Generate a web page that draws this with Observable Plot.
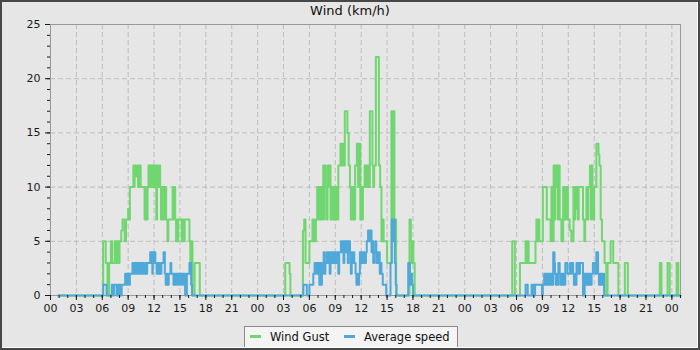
<!DOCTYPE html>
<html>
<head>
<meta charset="utf-8">
<script src="https://cdn.jsdelivr.net/npm/d3@7"></script>
<script src="https://cdn.jsdelivr.net/npm/@observablehq/plot@0.6"></script>
<style>
  html, body { margin: 0; padding: 0; background: #e6e6e6; }
  #wrap { position: relative; width: 700px; height: 350px; background: #e6e6e6; overflow: hidden; font-family: "DejaVu Sans", sans-serif; }
  #wrap svg { position: absolute; left: 0; top: 0; }
  #title { position: absolute; left: 0; top: 3px; width: 700px; text-align: center; font-size: 13px; line-height: 15px; color: #111; }
  #legend { position: absolute; left: 244px; top: 326px; width: 212px; height: 20px; background: #f4f4f4; border: 1px solid #8a8a8a; font-size: 11.5px; color: #111; }
  .item { position: absolute; top: 3px; line-height: 14px; white-space: nowrap; }
  .sw { display: inline-block; width: 11px; height: 3px; vertical-align: middle; margin-right: 9px; position: relative; top: -1px; }
  #border { position: absolute; left: 0; top: 0; width: 700px; height: 350px; box-sizing: border-box; border: 2px solid #474747; box-shadow: inset -1px -1px 0 #ffffff; pointer-events: none; }
</style>
</head>
<body>
<div id="wrap">
  <div id="chart"></div>
  <div id="title">Wind (km/h)</div>
  <div id="legend">
    <div class="item" style="left:5px"><span class="sw" style="background:#70d670"></span>Wind Gust</div>
    <div class="item" style="left:99px"><span class="sw" style="background:#4ea8da"></span>Average speed</div>
  </div>
  <div id="border"></div>
</div>
<script>
// hours since 00:00 of the first day, value in km/h (step changes)
const gustDay1 = [[0.9,0],[6.1,5],[6.4,3],[6.6,0],[6.8,3],[7.0,5],[7.15,3],[7.45,5],[7.6,3],[7.75,5],[7.85,3],[8.0,5],[8.2,6],[8.35,7],[8.6,5],[8.75,7],[9.0,8],[9.1,7],[9.2,10],[9.6,12],[9.7,10],[9.75,12],[9.85,11],[10.05,12],[10.15,10],[10.2,12],[10.3,10],[10.35,12],[10.45,10],[10.9,7],[10.95,10],[11.05,7],[11.1,10],[11.2,7],[11.25,10],[11.35,12],[11.45,10],[11.5,12],[11.6,10],[11.7,12],[11.8,10],[11.85,12],[12.0,10],[12.1,12],[12.25,7],[12.35,12],[12.45,10],[12.55,12],[12.7,10],[12.8,7],[12.9,10],[13.0,7],[13.1,10],[13.2,7],[13.3,10],[13.4,7],[13.55,5],[13.65,7],[14.15,10],[14.25,7],[14.35,10],[14.45,7],[14.55,5],[14.65,7],[14.75,5],[14.8,7],[15.2,5],[15.3,7],[15.45,5],[15.55,7],[16.1,5],[16.2,3],[16.3,5],[16.45,0],[16.7,3],[17.3,0]];
const gustDay2 = [[27.2,3],[27.7,2],[27.8,0],[29.25,6],[29.4,7],[29.55,3],[30.0,5],[30.35,7],[30.45,5],[30.55,7],[30.65,5],[30.75,7],[30.9,10],[31.0,7],[31.1,10],[31.2,7],[31.3,10],[31.4,7],[31.5,10],[31.6,12],[31.7,7],[31.75,12],[31.85,10],[32.0,7],[32.1,12],[32.25,10],[32.35,12],[32.45,7],[32.55,10],[32.65,7],[32.75,10],[32.85,7],[32.95,10],[33.05,7],[33.15,10],[33.25,7],[33.35,12],[33.6,14],[33.7,12],[33.8,14],[33.9,12],[34.1,17],[34.4,15],[34.55,12],[34.7,10],[34.8,7],[34.9,10],[35.0,7],[35.1,10],[35.2,7],[35.3,12],[35.5,14],[35.65,10],[35.75,14],[35.9,7],[36.0,10],[36.1,7],[36.2,10],[36.4,12],[36.5,10],[36.6,12],[36.7,10],[36.8,12],[36.9,10],[37.0,17],[37.3,12],[37.4,10],[37.5,12],[37.7,22],[38.05,12],[38.2,10],[38.35,5],[38.5,7],[38.6,5],[39.0,3],[39.5,17],[39.6,7],[39.7,17],[39.85,7],[40.05,0],[41.6,7],[41.75,5],[41.85,3],[41.95,5],[42.05,3],[42.2,0]];
const gustDay3 = [[53.5,5],[53.8,0],[54.4,3],[55.05,5],[55.15,3],[55.3,5],[55.4,3],[56.2,5],[56.3,7],[56.4,5],[56.55,7],[56.65,5],[57.05,10],[57.5,7],[57.95,5],[58.05,10],[58.15,5],[58.3,12],[58.4,7],[58.5,12],[58.6,10],[58.7,12],[58.8,7],[58.9,12],[59.0,7],[59.2,5],[59.4,10],[59.5,7],[59.6,10],[59.7,7],[59.8,10],[59.95,7],[60.15,6],[60.35,5],[60.6,10],[60.7,7],[60.8,10],[60.9,8],[61.0,10],[61.1,7],[61.2,10],[61.7,7],[61.85,5],[61.95,7],[62.1,10],[62.2,7],[62.3,10],[62.5,12],[62.6,7],[62.7,12],[62.8,10],[62.9,7],[63.0,10],[63.25,14],[63.5,13],[63.6,12],[63.75,7],[63.9,5],[64.2,3],[64.4,0],[64.55,3],[64.9,5],[65.2,3],[65.8,0],[66.55,3],[66.9,0],[70.6,3],[70.8,0],[71.5,3],[71.75,0],[72.55,3],[72.75,0],[73.0,0]];

const avgDay1 = [[0.9,0],[6.1,1],[6.5,0],[7.1,1],[7.2,0],[7.35,1],[7.65,0],[7.75,1],[7.9,0],[8.0,1],[8.1,0],[8.25,1],[8.65,2],[8.8,1],[8.9,2],[9.1,1],[9.2,2],[9.5,3],[9.6,2],[9.7,3],[9.85,2],[9.95,3],[10.1,2],[10.2,3],[10.35,2],[10.45,3],[10.6,2],[10.7,3],[10.8,2],[11.0,3],[11.1,2],[11.2,3],[11.55,4],[11.65,3],[11.7,4],[11.8,2],[11.85,4],[11.95,3],[12.05,4],[12.15,3],[12.3,2],[12.4,3],[12.5,2],[12.6,3],[12.75,2],[12.85,3],[13.1,4],[13.25,2],[13.35,1],[13.45,2],[13.55,1],[13.7,2],[13.9,3],[14.0,2],[14.25,1],[14.35,2],[14.5,1],[14.6,2],[14.8,1],[14.9,2],[15.1,1],[15.2,2],[15.4,1],[15.5,2],[15.6,0],[15.8,2],[16.1,3],[16.3,1],[16.4,0]];
const avgDay2 = [[29.3,1],[29.7,0],[30.0,1],[30.45,2],[30.6,3],[30.7,2],[30.8,3],[30.9,2],[31.0,3],[31.15,1],[31.25,3],[31.35,1],[31.45,2],[31.55,3],[31.65,4],[31.75,2],[31.85,3],[32.0,4],[32.1,3],[32.2,4],[32.35,2],[32.45,4],[32.6,3],[32.7,4],[32.85,3],[32.95,4],[33.1,3],[33.2,4],[33.35,2],[33.45,4],[33.65,5],[33.75,4],[33.85,5],[33.95,3],[34.05,5],[34.2,4],[34.3,5],[34.45,3],[34.55,5],[34.7,4],[34.8,2],[34.9,4],[35.0,3],[35.1,4],[35.2,3],[35.35,2],[35.45,1],[35.55,2],[35.65,1],[35.75,2],[35.85,4],[35.95,3],[36.05,4],[36.15,3],[36.25,4],[36.4,3],[36.55,4],[36.65,5],[36.8,6],[36.95,5],[37.05,6],[37.2,4],[37.3,5],[37.4,3],[37.5,4],[37.65,5],[37.75,3],[37.85,4],[37.95,3],[38.05,4],[38.15,2],[38.25,3],[38.35,2],[38.5,1],[38.9,0],[39.4,3],[39.55,7],[39.7,5],[39.8,7],[39.9,3],[40.0,1],[40.1,0],[41.45,3],[41.65,1],[41.8,2],[41.9,1],[42.0,0]];
const avgDay3 = [[55.05,1],[55.3,0],[55.75,1],[55.9,0],[56.0,1],[56.1,0],[56.15,1],[56.95,0],[57.05,1],[57.2,2],[57.3,1],[57.4,2],[57.5,1],[57.6,2],[57.7,1],[57.8,2],[57.9,1],[58.0,2],[58.1,1],[58.25,4],[58.4,3],[58.45,2],[58.55,1],[58.65,2],[58.75,1],[58.85,3],[59.0,2],[59.1,1],[59.2,2],[59.3,1],[59.4,2],[59.5,1],[59.65,3],[59.9,2],[60.2,3],[60.35,2],[60.45,3],[60.55,2],[60.65,1],[60.75,2],[60.85,1],[60.95,3],[61.05,2],[61.15,3],[61.25,2],[61.35,3],[61.7,0],[61.9,2],[62.0,1],[62.1,2],[62.2,1],[62.3,2],[62.4,1],[62.5,2],[62.6,1],[62.7,2],[62.85,3],[63.1,2],[63.25,4],[63.45,2],[63.55,1],[63.65,2],[63.75,1],[63.85,2],[63.95,1],[64.05,2],[64.15,0],[73.0,0]];

const xMajorTicks = [0,3,6,9,12,15,18,21,24,27,30,33,36,39,42,45,48,51,54,57,60,63,66,69,72];
const xTickLabels = ["00","03","06","09","12","15","18","21","00","03","06","09","12","15","18","21","00","03","06","09","12","15","18","21","00"];
const yMajorTicks = [0,5,10,15,20,25];
const yMinorTicks = [0,1,2,3,4,5,6,7,8,9,10,11,12,13,14,15,16,17,18,19,20,21,22,23,24,25];
const xDomain = [0, 73];

const toRows = a => a.map(([h, v]) => ({h, v}));
const gust = toRows([...gustDay1, ...gustDay2, ...gustDay3]);
const avg = toRows([...avgDay1, ...avgDay2, ...avgDay3]);
const xMinorTicks = d3.range(0, 74, 1);

const green = "#70d670", blue = "#4ea8da";
const gridStyle = {stroke: "#bdbdbd", strokeOpacity: 1, strokeDasharray: "5,3"};

const chart = Plot.plot({
  width: 700, height: 350,
  marginLeft: 50, marginRight: 20, marginTop: 24, marginBottom: 55,
  style: {background: "transparent", fontFamily: "DejaVu Sans", fontSize: "11px", color: "#1a1a1a"},
  x: {domain: xDomain},
  y: {domain: [0, 25]},
  marks: [
    Plot.gridX(xMajorTicks, gridStyle),
    Plot.gridY(yMajorTicks, gridStyle),
    Plot.frame({stroke: "#999"}),
    Plot.line(gust, {x: "h", y: "v", curve: "step-after", stroke: green, strokeWidth: 2}),
    Plot.line(avg, {x: "h", y: "v", curve: "step-after", stroke: blue, strokeWidth: 2}),
    Plot.axisX(xMinorTicks, {tickSize: 3, tickFormat: () => "", label: null}),
    Plot.axisX(xMajorTicks, {tickSize: 5, tickPadding: 4, label: null,
      tickFormat: d => xTickLabels[xMajorTicks.indexOf(d)]}),
    Plot.axisY(yMinorTicks, {tickSize: 3, tickFormat: () => "", label: null}),
    Plot.axisY(yMajorTicks, {tickSize: 5, tickPadding: 5, label: null})
  ]
});
document.getElementById("chart").appendChild(chart);
</script>
</body>
</html>
